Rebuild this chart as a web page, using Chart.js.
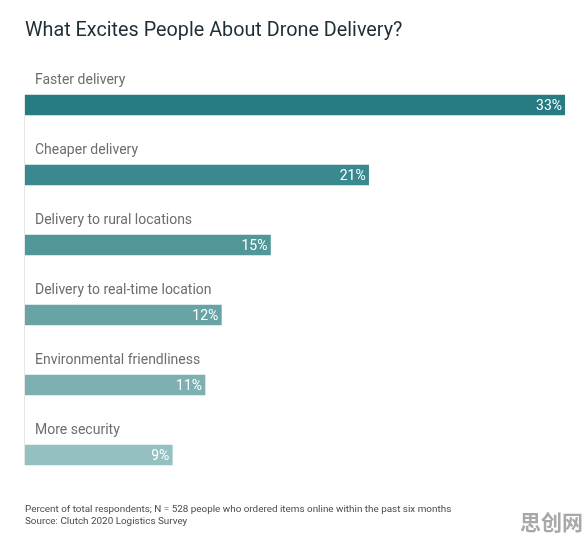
<!DOCTYPE html>
<html>
<head>
<meta charset="utf-8">
<script src="https://cdn.jsdelivr.net/npm/chart.js@4"></script>
<style>
  html, body { margin: 0; padding: 0; background: #fff; }
  #wrap { position: relative; width: 588px; height: 541px; font-family: Roboto, "Noto Sans", sans-serif; }
  #title { position: absolute; left: 25px; top: 18px; font-size: 19.8px; color: #1f2d35; }
  #note { position: absolute; left: 25px; top: 503px; font-size: 9.9px; line-height: 12px; color: #4a4a4a; }
  #mark { position: absolute; right: 5px; top: 506px; font-size: 21px; font-weight: bold; color: #a8a8a8; font-family: "Noto Sans CJK SC", sans-serif; }
  canvas { position: absolute; left: 0; top: 0; }
</style>
</head>
<body>
<div id="wrap">
  <canvas id="chart" width="588" height="541"></canvas>
  <div id="title">What Excites People About Drone Delivery?</div>
  <div id="note">Percent of total respondents; N = 528 people who ordered items online within the past six months<br>Source: Clutch 2020 Logistics Survey</div>
  <div id="mark">思创网</div>
</div>
<script>
// Datos
const categories = ['Faster delivery', 'Cheaper delivery', 'Delivery to rural locations', 'Delivery to real-time location', 'Environmental friendliness', 'More security']
const values = [33, 21, 15, 12, 11, 9]
const barColors = ['#277b82', '#3a898e', '#519699', '#68a3a6', '#7db0b2', '#94c0c1']

// Etiquetas encima de cada barra, porcentaje dentro y línea base a la izquierda
const barLabels = {
  id: 'barLabels',
  afterDatasetsDraw(chart) {
    const ctx = chart.ctx
    const meta = chart.getDatasetMeta(0)
    const first = meta.data[0]
    const last = meta.data[meta.data.length - 1]
    ctx.save()
    ctx.strokeStyle = '#e6e6e6'
    ctx.lineWidth = 1
    ctx.beginPath()
    ctx.moveTo(chart.chartArea.left - 0.5, first.y - first.height / 2)
    ctx.lineTo(chart.chartArea.left - 0.5, last.y + last.height / 2)
    ctx.stroke()

    meta.data.forEach((bar, i) => {
      ctx.font = '14px Roboto'
      ctx.fillStyle = '#6d6d6d'
      ctx.textAlign = 'left'
      ctx.textBaseline = 'middle'
      ctx.fillText(categories[i], 35, bar.y - 25)

      ctx.font = '14px Roboto'
      ctx.fillStyle = '#ffffff'
      ctx.textAlign = 'right'
      ctx.fillText(values[i] + '%', bar.x - 3, bar.y + 1)
    })
    ctx.restore()
  }
}

new Chart(document.getElementById('chart'), {
  type: 'bar',
  data: {
    labels: categories,
    datasets: [{
      data: values,
      backgroundColor: barColors,
      barThickness: 20,
      borderWidth: 0
    }]
  },
  options: {
    indexAxis: 'y',
    responsive: false,
    animation: false,
    layout: { padding: { left: 25, right: 23, top: 70, bottom: 51 } },
    scales: {
      x: { display: false, min: 0, max: 33 },
      y: { display: false }
    },
    plugins: {
      legend: { display: false },
      tooltip: { enabled: false }
    }
  },
  plugins: [barLabels]
})
</script>
</body>
</html>
